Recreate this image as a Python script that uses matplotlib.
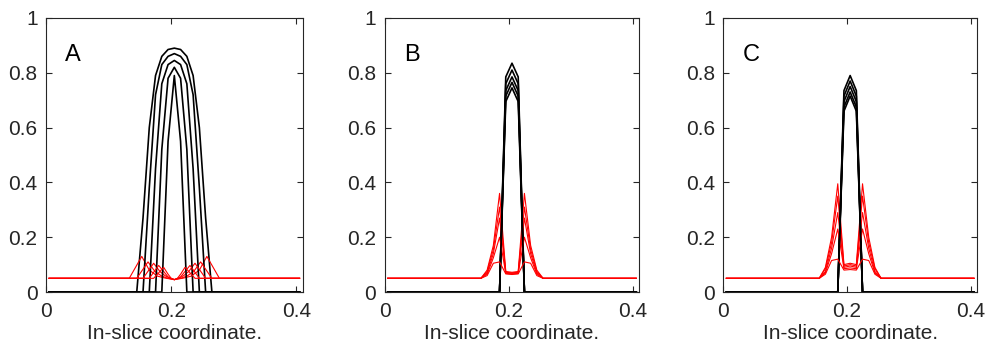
import matplotlib
matplotlib.use('Agg')
import matplotlib.pyplot as plt

plt.rcParams['font.family'] = ['Liberation Sans', 'DejaVu Sans']

# ---- data ----
x_start = 0.005
x_end = 0.405

# panel A, black profiles (each has its own sample points)
a_black_x = [
    [x_start, 0.145, 0.155, 0.165, 0.175, 0.185, 0.195, 0.205, 0.215, 0.225, 0.235, 0.245, 0.255, 0.265, x_end],
    [x_start, 0.155, 0.165, 0.175, 0.185, 0.195, 0.205, 0.215, 0.225, 0.235, 0.245, 0.255, x_end],
    [x_start, 0.165, 0.175, 0.185, 0.195, 0.205, 0.215, 0.225, 0.235, 0.245, x_end],
    [x_start, 0.175, 0.185, 0.195, 0.205, 0.215, 0.225, 0.235, x_end],
    [x_start, 0.185, 0.195, 0.205, 0.215, 0.225, x_end],
]
a_black_y = [
    [0, 0, 0.27, 0.60, 0.79, 0.86, 0.885, 0.89, 0.885, 0.86, 0.79, 0.60, 0.27, 0, 0],
    [0, 0, 0.38, 0.72, 0.83, 0.86, 0.87, 0.86, 0.83, 0.72, 0.38, 0, 0],
    [0, 0, 0.45, 0.76, 0.83, 0.845, 0.83, 0.76, 0.45, 0, 0],
    [0, 0, 0.52, 0.78, 0.82, 0.78, 0.52, 0, 0],
    [0, 0, 0.55, 0.79, 0.55, 0, 0],
]

# panel A, red profiles
a_red_x = [
    [x_start, 0.133, 0.153, 0.165, 0.178, 0.192, 0.205, 0.218, 0.232, 0.245, 0.257, 0.277, x_end],
    [x_start, 0.145, 0.163, 0.174, 0.185, 0.195, 0.205, 0.215, 0.225, 0.236, 0.247, 0.265, x_end],
    [x_start, 0.155, 0.172, 0.182, 0.190, 0.198, 0.205, 0.212, 0.220, 0.228, 0.238, 0.255, x_end],
    [x_start, 0.165, 0.180, 0.188, 0.195, 0.205, 0.215, 0.222, 0.230, 0.245, x_end],
    [x_start, 0.172, 0.188, 0.195, 0.200, 0.205, 0.210, 0.215, 0.222, 0.238, x_end],
]
a_red_y = [
    [0.05, 0.05, 0.13, 0.08, 0.058, 0.05, 0.046, 0.05, 0.058, 0.08, 0.13, 0.05, 0.05],
    [0.05, 0.05, 0.11, 0.075, 0.058, 0.05, 0.045, 0.05, 0.058, 0.075, 0.11, 0.05, 0.05],
    [0.05, 0.05, 0.105, 0.075, 0.06, 0.05, 0.045, 0.05, 0.06, 0.075, 0.105, 0.05, 0.05],
    [0.05, 0.05, 0.097, 0.075, 0.055, 0.045, 0.055, 0.075, 0.097, 0.05, 0.05],
    [0.05, 0.05, 0.09, 0.065, 0.05, 0.045, 0.05, 0.065, 0.09, 0.05, 0.05],
]

# panels B and C share sample points
bc_black_x = [x_start, 0.185, 0.195, 0.205, 0.215, 0.225, x_end]
bc_red_x = [x_start, 0.155, 0.165, 0.175, 0.185, 0.195, 0.205, 0.215, 0.225, 0.235, 0.245, 0.255, x_end]

b_black_y = [
    [0, 0, 0.785, 0.835, 0.785, 0, 0],
    [0, 0, 0.76, 0.81, 0.76, 0, 0],
    [0, 0, 0.735, 0.785, 0.735, 0, 0],
    [0, 0, 0.715, 0.765, 0.715, 0, 0],
    [0, 0, 0.695, 0.745, 0.695, 0, 0],
]
b_red_y = [
    [0.05, 0.05, 0.08, 0.17, 0.36, 0.075, 0.072, 0.075, 0.36, 0.17, 0.08, 0.05, 0.05],
    [0.05, 0.05, 0.075, 0.155, 0.31, 0.072, 0.07, 0.072, 0.31, 0.155, 0.075, 0.05, 0.05],
    [0.05, 0.05, 0.07, 0.14, 0.27, 0.07, 0.068, 0.07, 0.27, 0.14, 0.07, 0.05, 0.05],
    [0.05, 0.05, 0.065, 0.125, 0.20, 0.068, 0.066, 0.068, 0.20, 0.125, 0.065, 0.05, 0.05],
    [0.05, 0.05, 0.06, 0.105, 0.11, 0.066, 0.064, 0.066, 0.11, 0.105, 0.06, 0.05, 0.05],
]

c_black_y = [
    [0, 0, 0.735, 0.79, 0.735, 0, 0],
    [0, 0, 0.715, 0.77, 0.715, 0, 0],
    [0, 0, 0.695, 0.75, 0.695, 0, 0],
    [0, 0, 0.675, 0.73, 0.675, 0, 0],
    [0, 0, 0.66, 0.715, 0.66, 0, 0],
]
c_red_y = [
    [0.05, 0.05, 0.09, 0.20, 0.395, 0.10, 0.105, 0.10, 0.395, 0.20, 0.09, 0.05, 0.05],
    [0.05, 0.05, 0.085, 0.18, 0.35, 0.095, 0.10, 0.095, 0.35, 0.18, 0.085, 0.05, 0.05],
    [0.05, 0.05, 0.075, 0.16, 0.29, 0.09, 0.095, 0.09, 0.29, 0.16, 0.075, 0.05, 0.05],
    [0.05, 0.05, 0.07, 0.14, 0.23, 0.085, 0.088, 0.085, 0.23, 0.14, 0.07, 0.05, 0.05],
    [0.05, 0.05, 0.065, 0.115, 0.12, 0.08, 0.082, 0.08, 0.12, 0.115, 0.065, 0.05, 0.05],
]

panel_letters = ['A', 'B', 'C']
x_ticks = [0, 0.2, 0.4]
x_ticklabels = ['0', '0.2', '0.4']
y_ticks = [0, 0.2, 0.4, 0.6, 0.8, 1]
y_ticklabels = ['0', '0.2', '0.4', '0.6', '0.8', '1']

# ---- figure ----
fig = plt.figure(figsize=(9.99, 3.46), dpi=100)
axes_pos = [
    [0.046, 0.156, 0.257, 0.792],
    [0.385, 0.156, 0.255, 0.792],
    [0.724, 0.156, 0.254, 0.792],
]
axes = [fig.add_axes(p) for p in axes_pos]

gray = '#262626'

def draw_panel(ax, bx, by, rx, ry):
    for i in range(len(by)):
        ax.plot(bx[i], by[i], color='black', lw=1.2)
        ax.plot(rx[i], ry[i], color='red', lw=0.8)

draw_panel(axes[0], a_black_x, a_black_y, a_red_x, a_red_y)
draw_panel(axes[1], [bc_black_x] * 5, b_black_y, [bc_red_x] * 5, b_red_y)
draw_panel(axes[2], [bc_black_x] * 5, c_black_y, [bc_red_x] * 5, c_red_y)

for ax, letter in zip(axes, panel_letters):
    ax.set_xlim(0, 0.41)
    ax.set_ylim(0, 1)
    ax.set_xticks(x_ticks)
    ax.set_xticklabels(x_ticklabels)
    ax.set_yticks(y_ticks)
    ax.set_yticklabels(y_ticklabels)
    ax.tick_params(direction='in', top=True, right=True, length=4, width=0.8,
                   color=gray, labelcolor=gray, labelsize=15)
    ax.tick_params(axis='x', pad=7)
    ax.tick_params(axis='y', pad=6)
    for s in ax.spines.values():
        s.set_color(gray)
        s.set_linewidth(0.8)
    ax.set_xlabel('In-slice coordinate.', fontsize=15, color=gray, labelpad=2)
    ax.text(0.075, 0.865, letter, transform=ax.transAxes, fontsize=17,
            va='center', ha='left', color='black')

fig.savefig('out.png', dpi=100)
